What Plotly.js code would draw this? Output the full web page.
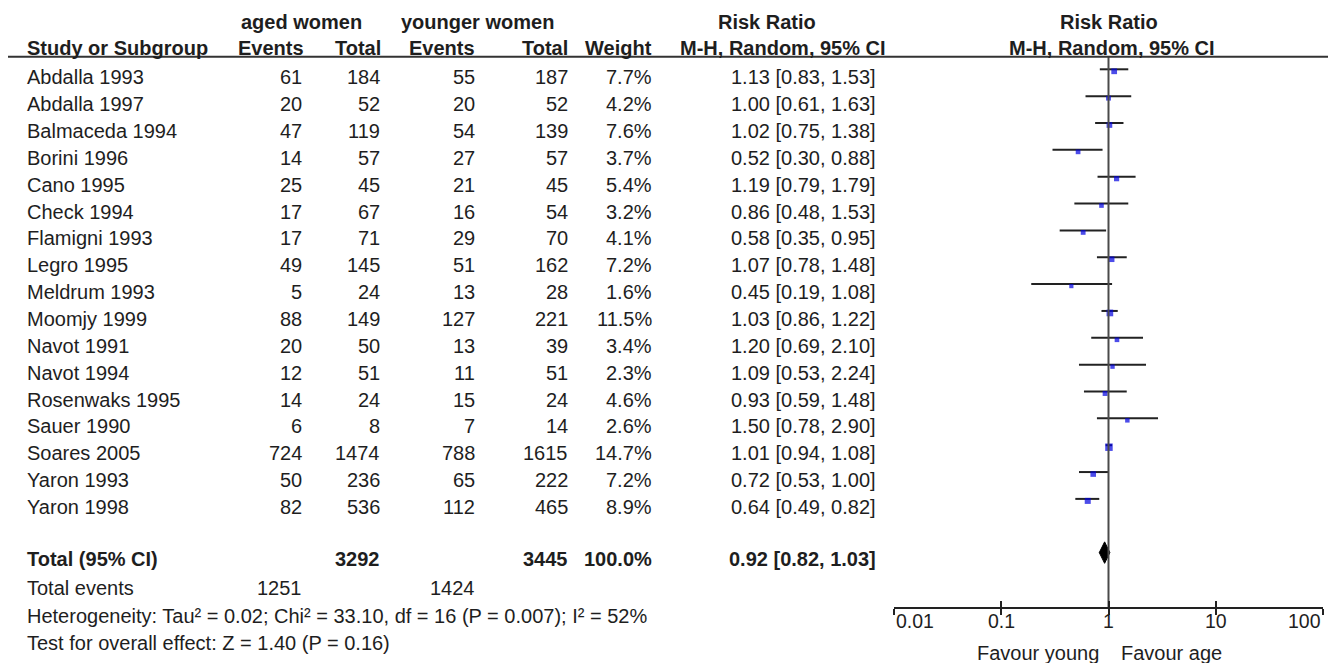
<!DOCTYPE html>
<html>
<head>
<meta charset="utf-8">
<script src="https://cdn.plot.ly/plotly-3.0.1.min.js"></script>
<style>
  html, body { margin: 0; padding: 0; background: #fff; }
  #chart { width: 1328px; height: 663px; }
</style>
</head>
<body>
<div id="chart"></div>
<script>
// Study-level data: aged women vs younger women, risk ratio (M-H, random effects)
const studies = ["Abdalla 1993", "Abdalla 1997", "Balmaceda 1994", "Borini 1996", "Cano 1995",
  "Check 1994", "Flamigni 1993", "Legro 1995", "Meldrum 1993", "Moomjy 1999", "Navot 1991",
  "Navot 1994", "Rosenwaks 1995", "Sauer 1990", "Soares 2005", "Yaron 1993", "Yaron 1998"];
const agedEvents = [61, 20, 47, 14, 25, 17, 17, 49, 5, 88, 20, 12, 14, 6, 724, 50, 82];
const agedTotal = [184, 52, 119, 57, 45, 67, 71, 145, 24, 149, 50, 51, 24, 8, 1474, 236, 536];
const youngEvents = [55, 20, 54, 27, 21, 16, 29, 51, 13, 127, 13, 11, 15, 7, 788, 65, 112];
const youngTotal = [187, 52, 139, 57, 45, 54, 70, 162, 28, 221, 39, 51, 24, 14, 1615, 222, 465];
const weights = [7.7, 4.2, 7.6, 3.7, 5.4, 3.2, 4.1, 7.2, 1.6, 11.5, 3.4, 2.3, 4.6, 2.6, 14.7, 7.2, 8.9];
const rr = [1.13, 1.00, 1.02, 0.52, 1.19, 0.86, 0.58, 1.07, 0.45, 1.03, 1.20, 1.09, 0.93, 1.50, 1.01, 0.72, 0.64];
const ciLow = [0.83, 0.61, 0.75, 0.30, 0.79, 0.48, 0.35, 0.78, 0.19, 0.86, 0.69, 0.53, 0.59, 0.78, 0.94, 0.53, 0.49];
const ciHigh = [1.53, 1.63, 1.38, 0.88, 1.79, 1.53, 0.95, 1.48, 1.08, 1.22, 2.10, 2.24, 1.48, 2.90, 1.08, 1.00, 0.82];

// Pooled result
const pooledRR = 0.92, pooledLow = 0.82, pooledHigh = 1.03;
const agedTotalSum = 3292, youngTotalSum = 3445, weightSum = 100.0;
const agedEventsSum = 1251, youngEventsSum = 1424;
const heterogeneityText = "Heterogeneity: Tau² = 0.02; Chi² = 33.10, df = 16 (P = 0.007); I² = 52%";
const overallText = "Test for overall effect: Z = 1.40 (P = 0.16)";

// Axis ticks and direction labels
const tickValues = [0.01, 0.1, 1, 10, 100];
const tickLabels = ["0.01", "0.1", "1", "10", "100"];
const favourLeft = "Favour young", favourRight = "Favour age";

// ---- layout geometry (pixels) ----
const W = 1328, H = 663;
const ROW0 = 69.3, ROWH = 26.85;            // first forest row and row pitch
const rowY = px => (px - ROW0) / ROWH;       // pixel -> row units on the y axis
const TEXT0 = 77.3;                          // first table text row
const AXIS_PX = 608, HEADER_LINE_PX = 56.7;
const X_LEFT = 894.3, X_RIGHT = 1322.7;      // 0.01 .. 100 on the log axis
const MARKER_DY = 2 / ROWH;                  // squares sit slightly below their CI line

const FONT = "Liberation Sans, Arial, Helvetica, sans-serif";
const TXT = "#1e1e1e";
const FS = 20;

const ann = [];
function addText(text, xPx, yPx, anchor, bold, size) {
  ann.push({
    text: bold ? "<b>" + text + "</b>" : text,
    xref: "paper", yref: "y",
    x: xPx / W, y: rowY(yPx),
    xanchor: anchor, yanchor: "middle",
    showarrow: false,
    font: { family: FONT, size: size || FS, color: TXT }
  });
}

// column right edges
const COL = { name: 25, aE: 304, aT: 382, yE: 476.5, yT: 569.5, w: 654, ci: 878 };

// headers
addText("aged women", 301, 22, "center", true);
addText("younger women", 477, 22, "center", true);
addText("Risk Ratio", 766.7, 22, "center", true);
addText("Risk Ratio", 1109.3, 22, "center", true);
addText("Study or Subgroup", COL.name, 48, "left", true);
addText("Events", 306, 48, "right", true);
addText("Total", COL.aT + 1, 48, "right", true);
addText("Events", 477.3, 48, "right", true);
addText("Total", 570, 48, "right", true);
addText("Weight", COL.w, 48, "right", true);
addText("M-H, Random, 95% CI", 783.3, 48, "center", true);
addText("M-H, Random, 95% CI", 1112, 48, "center", true);

// study rows
studies.forEach((s, i) => {
  const y = TEXT0 + i * ROWH;
  addText(s, COL.name, y, "left");
  addText(String(agedEvents[i]), COL.aE, y, "right");
  addText(String(agedTotal[i]), COL.aT, y, "right");
  addText(String(youngEvents[i]), COL.yE, y, "right");
  addText(String(youngTotal[i]), COL.yT, y, "right");
  addText(weights[i].toFixed(1) + "%", COL.w, y, "right");
  addText(rr[i].toFixed(2) + " [" + ciLow[i].toFixed(2) + ", " + ciHigh[i].toFixed(2) + "]", COL.ci, y, "right");
});

// totals block
addText("Total (95% CI)", COL.name, 559, "left", true);
addText(String(agedTotalSum), COL.aT, 559, "right", true);
addText(String(youngTotalSum), COL.yT, 559, "right", true);
addText(weightSum.toFixed(1) + "%", COL.w, 559, "right", true);
addText(pooledRR.toFixed(2) + " [" + pooledLow.toFixed(2) + ", " + pooledHigh.toFixed(2) + "]", COL.ci, 559, "right", true);
addText("Total events", COL.name, 588, "left");
addText(String(agedEventsSum), COL.aE, 588, "right");
addText(String(youngEventsSum), COL.yE, 588, "right");
addText(heterogeneityText, COL.name, 616, "left");
addText(overallText, COL.name, 643, "left");

// tick labels under the log axis (outer ones aligned to the axis ends)
tickValues.forEach((v, k) => {
  ann.push({
    text: tickLabels[k], xref: "x", yref: "y", x: Math.log10(v), y: rowY(621),
    xanchor: k === 0 ? "left" : (k === tickValues.length - 1 ? "right" : "center"),
    yanchor: "middle", showarrow: false,
    font: { family: FONT, size: 19.5, color: TXT }
  });
});
ann.push({ text: favourLeft, xref: "x", yref: "y", x: Math.log10(1), xshift: -8, y: rowY(653),
  xanchor: "right", yanchor: "middle", showarrow: false, font: { family: FONT, size: FS, color: TXT } });
ann.push({ text: favourRight, xref: "x", yref: "y", x: Math.log10(1), xshift: 10, y: rowY(653),
  xanchor: "left", yanchor: "middle", showarrow: false, font: { family: FONT, size: FS, color: TXT } });

// ---- traces ----
const rows = studies.map((_, i) => i);
const ciX = [], ciY = [];
rows.forEach(i => { ciX.push(ciLow[i], ciHigh[i], null); ciY.push(i, i, null); });

const pooledRow = studies.length + 1;
const diamondHalf = 0.4;

const traces = [
  { // line of no effect
    type: "scatter", mode: "lines", xaxis: "x2", yaxis: "y",
    x: [1, 1], y: [rowY(HEADER_LINE_PX), rowY(AXIS_PX)],
    line: { color: "#4a4a4a", width: 2 }, hoverinfo: "skip", showlegend: false
  },
  { // confidence intervals
    type: "scatter", mode: "lines", x: ciX, y: ciY,
    line: { color: "#222", width: 2 }, hoverinfo: "skip", showlegend: false
  },
  { // study estimates, sized by weight
    type: "scatter", mode: "markers", x: rr, y: rows.map(i => i + MARKER_DY),
    marker: { symbol: "square", color: "#0000e0", size: weights.map(w => 3.8 + 0.25 * w), line: { width: 0 } },
    hoverinfo: "skip", showlegend: false
  },
  { // pooled estimate diamond
    type: "scatter", mode: "lines", fill: "toself", fillcolor: "#000",
    x: [pooledLow, pooledRR, pooledHigh, pooledRR, pooledLow],
    y: [pooledRow, pooledRow - diamondHalf, pooledRow, pooledRow + diamondHalf, pooledRow],
    line: { color: "#000", width: 1 }, hoverinfo: "skip", showlegend: false
  }
];

const xDomain = [X_LEFT / W, X_RIGHT / W];
const axisPos = (H - AXIS_PX) / H;

const layout = {
  width: W, height: H,
  margin: { l: 0, r: 0, t: 0, b: 0 },
  paper_bgcolor: "#fff", plot_bgcolor: "rgba(0,0,0,0)",
  showlegend: false,
  xaxis: {
    type: "log", range: [-2, 2], domain: xDomain,
    anchor: "free", position: axisPos,
    showline: true, linecolor: "#222", linewidth: 2,
    ticks: "outside", ticklen: 6, tickwidth: 2, tickcolor: "#222",
    tickvals: tickValues, showticklabels: false,
    showgrid: false, zeroline: false, fixedrange: true
  },
  xaxis2: {
    type: "log", range: [-2, 2], domain: xDomain, overlaying: "x",
    anchor: "free", position: axisPos,
    showline: false, ticks: "inside", ticklen: 7, tickwidth: 2, tickcolor: "#222",
    tickvals: tickValues, showticklabels: false,
    showgrid: false, zeroline: false, fixedrange: true
  },
  yaxis: {
    range: [rowY(H), rowY(0)], domain: [0, 1],
    visible: false, showgrid: false, zeroline: false, fixedrange: true
  },
  annotations: ann,
  shapes: [
    { type: "line", xref: "paper", yref: "y", x0: 8 / W, x1: 1, y0: rowY(HEADER_LINE_PX), y1: rowY(HEADER_LINE_PX),
      line: { color: "#333", width: 2 } }
  ]
};

Plotly.newPlot("chart", traces, layout, { staticPlot: true, displayModeBar: false });
</script>
</body>
</html>
